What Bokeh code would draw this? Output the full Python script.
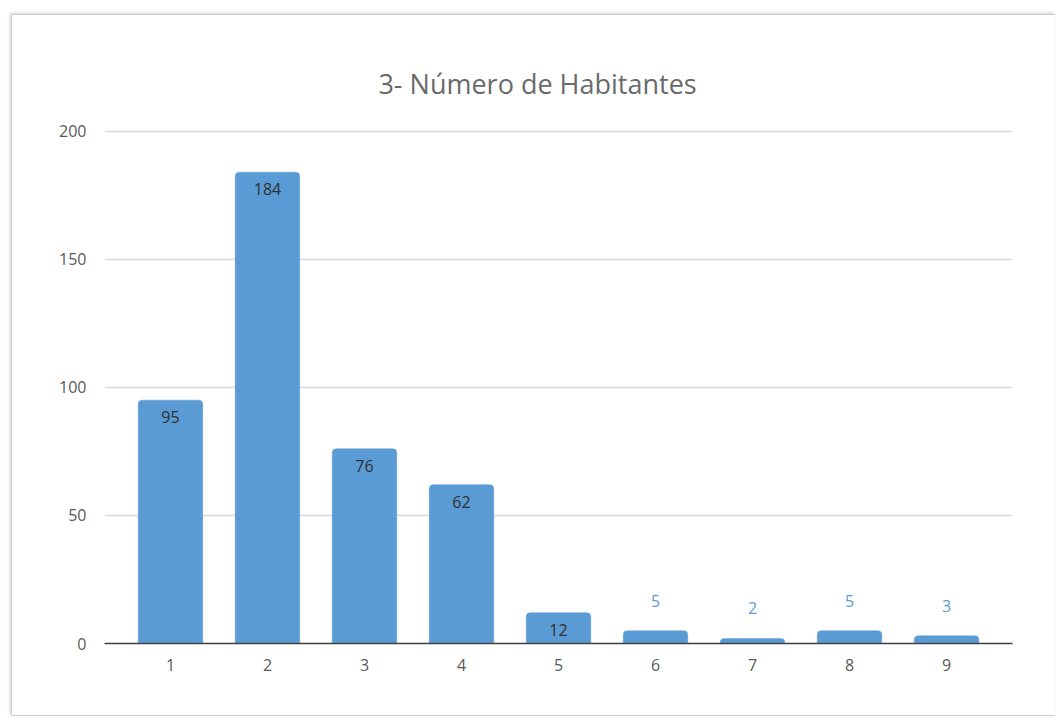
from bokeh.plotting import figure
from bokeh.models import ColumnDataSource, FixedTicker, Label, Range1d
from bokeh.core.properties import value
from bokeh.embed import file_html
from bokeh.resources import INLINE

# Data
categories = [1, 2, 3, 4, 5, 6, 7, 8, 9]
habitantes = [95, 184, 76, 62, 12, 5, 2, 5, 3]
y_ticks = [0, 50, 100, 150, 200]
x_tick_labels = [str(c) for c in categories]
title_text = "3- Número de Habitantes"

FONT = "Open Sans"
BAR_COLOR = "#5B9BD5"
INSIDE_MIN = 10  # values at or above this get their label inside the bar

# the y range reaches above the last tick so the title sits inside the frame
x_lo, x_hi = 0.32, 9.68
y_lo, y_hi = 0, 228

p = figure(
    width=1044, height=702,
    x_range=Range1d(x_lo, x_hi), y_range=Range1d(y_lo, y_hi),
    output_backend="svg", toolbar_location=None,
    min_border_left=92, min_border_right=44,
    min_border_top=44, min_border_bottom=74,
)
p.styles = {
    "margin-left": "11px",
    "margin-top": "14px",
    "border-left": "1px solid #cfcfcf",
    "border-top": "1px solid #cfcfcf",
    "border-bottom": "1px solid #cfcfcf",
    "box-shadow": "-1px -1px 3px rgba(0,0,0,0.18)",
}
p.outline_line_color = None
p.background_fill_color = "white"
p.border_fill_color = "white"

src = ColumnDataSource(dict(x=categories, top=habitantes))
p.vbar(x="x", top="top", width=0.665, source=src,
       fill_color=BAR_COLOR, line_color=BAR_COLOR, line_width=0.5,
       border_radius=(4, 4, 0, 0))

# value labels: inside the bar end when it fits, above it otherwise
inside = ColumnDataSource(dict(
    x=[c for c, v in zip(categories, habitantes) if v >= INSIDE_MIN],
    y=[v for v in habitantes if v >= INSIDE_MIN],
    t=[str(v) for v in habitantes if v >= INSIDE_MIN],
))
outside = ColumnDataSource(dict(
    x=[c for c, v in zip(categories, habitantes) if v < INSIDE_MIN],
    y=[v for v in habitantes if v < INSIDE_MIN],
    t=[str(v) for v in habitantes if v < INSIDE_MIN],
))
p.text(x="x", y="y", text="t", source=inside, y_offset=17,
       text_align="center", text_baseline="middle",
       text_font=value(FONT), text_font_size="16px", text_color="#2f2f2f")
p.text(x="x", y="y", text="t", source=outside, y_offset=-30,
       text_align="center", text_baseline="middle",
       text_font=value(FONT), text_font_size="16px", text_color=BAR_COLOR)

# axes
p.xaxis.ticker = FixedTicker(ticks=categories)
p.xaxis.major_label_overrides = {c: s for c, s in zip(categories, x_tick_labels)}
p.yaxis.ticker = FixedTicker(ticks=y_ticks)
for ax in (p.xaxis[0], p.yaxis[0]):
    ax.major_tick_line_color = None
    ax.minor_tick_line_color = None
    ax.major_label_text_font = FONT
    ax.major_label_text_font_size = "16px"
    ax.major_label_text_color = "#595959"
p.xaxis.axis_line_color = "#404040"
p.xaxis.axis_line_width = 1.5
p.xaxis.major_label_standoff = 9
p.yaxis.axis_line_color = None
p.yaxis.major_label_standoff = 12

p.xgrid.grid_line_color = None
p.ygrid.grid_line_color = "#d9d9d9"
p.ygrid.grid_line_width = 1.5

# chart title, centred over the whole chart box
px_per_unit = 97.0
title_x = x_lo + (537 - 104) / px_per_unit
p.add_layout(Label(x=title_x, y=y_ticks[-1], y_offset=48, text=title_text,
                   text_align="center", text_baseline="middle",
                   text_font=FONT, text_font_size="27px",
                   text_color="#6a6a6a"))

open("out.html", "w").write(file_html(p, INLINE))
